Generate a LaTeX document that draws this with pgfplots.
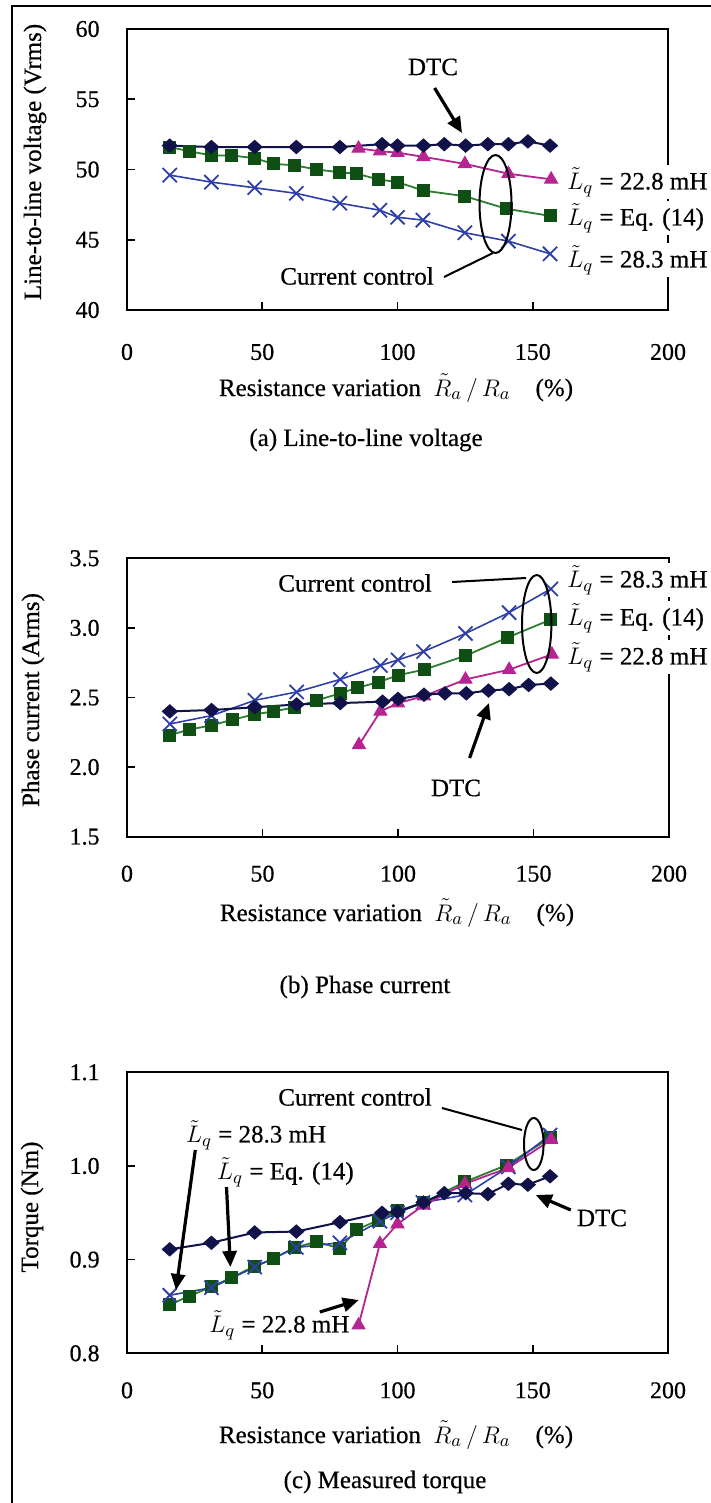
\documentclass[border=0pt]{standalone}
\usepackage{pgfplots}
\pgfplotsset{compat=1.18}
\usepackage{fontspec}
\setmainfont{Liberation Serif}[FakeBold=0.5]
\usetikzlibrary{arrows.meta}
\definecolor{dtc}{HTML}{12124A}
\definecolor{grn}{HTML}{0F4F14}
\definecolor{grnl}{HTML}{2E7D32}
\definecolor{blu}{HTML}{2F3FA8}
\definecolor{mag}{HTML}{B52490}

\tikzset{arr/.style={line width=1.6pt, -{Triangle[length=8pt, width=7pt]}}}
\pgfplotsset{
  myaxis/.style={
    scale only axis, width=270.5pt, height=140.5pt,
    xmin=0, xmax=200, xtick={0,50,100,150,200},
    tick align=inside, xtick pos=left, ytick pos=left,
    major tick length=4pt,
    axis line style={line width=1pt},
    tick style={line width=0.8pt, black},
    tick label style={font=\fontsize{12}{14}\selectfont},
    /pgf/number format/assume math mode=true,
    yticklabel style={anchor=east, inner sep=0pt, xshift=-13.5pt},
    clip=false,
    anchor=south west,
  },
  dtcp/.style={color=dtc, line width=1pt, mark=diamond*, mark size=3.3pt, mark options={fill=dtc, draw=dtc, xscale=1.5, line width=0.5pt}},
  grnp/.style={color=grnl, line width=0.9pt, mark=square*, mark size=3pt, mark options={fill=grn, draw=grn, line width=0.5pt}},
  blup/.style={color=blu, line width=0.8pt, mark=x, mark size=5pt, mark options={draw=blu, line width=0.9pt}},
  magp/.style={color=mag, line width=0.9pt, mark=triangle*, mark size=3.7pt, mark options={fill=mag, draw=mag, line width=0.5pt}},
}

\begin{document}
\begin{tikzpicture}[font=\fontsize{12.5}{15}\selectfont]
\useasboundingbox (0,0) rectangle (355.5pt,-751.5pt);

% ---------------- (a) ----------------
\begin{axis}[myaxis, at={(63.5pt,-155pt)},
  ymin=40, ymax=60, ytick={40,45,50,55,60},
  xticklabel style={anchor=center, yshift=-21pt}]
\addplot[blup] coordinates {(15.8,49.6)(31.2,49.1)(47.2,48.7)(62.6,48.3)(78.7,47.6)(93.5,47.1)(100,46.6)(109.4,46.4)(124.9,45.5)(141,44.9)(156.4,44.0)};
\addplot[grnp] coordinates {(15.8,51.6)(23.0,51.3)(31.2,51.0)(38.8,51.0)(47.2,50.8)(54.2,50.4)(61.9,50.3)(70.1,50.0)(78.7,49.8)(84.9,49.7)(92.8,49.3)(100,49.1)(109.6,48.5)(124.9,48.1)(140.3,47.2)(156.4,46.7)};
\addplot[magp] coordinates {(85.6,51.5)(93.5,51.3)(100,51.2)(109.6,50.9)(124.9,50.4)(141,49.7)(156.8,49.3)};
\addplot[dtcp] coordinates {(15.8,51.7)(31.2,51.6)(47.2,51.6)(62.6,51.6)(78.7,51.6)(94.3,51.8)(100,51.7)(109.6,51.7)(117.3,51.8)(125.2,51.7)(133.4,51.8)(141,51.8)(148.2,52.0)(156.4,51.7)};
\end{axis}

% ---------------- (b) ----------------
\begin{axis}[myaxis, at={(63.5pt,-418.35pt)}, height=139.2pt, width=271pt,
  ymin=1.5, ymax=3.5, ytick={1.5,2.0,2.5,3.0,3.5},
  yticklabel style={/pgf/number format/.cd, fixed, fixed zerofill, precision=1},
  xticklabel style={anchor=center, yshift=-18.5pt}]
\addplot[grnp] coordinates {(15.8,2.23)(23.0,2.27)(31.2,2.30)(38.8,2.34)(47.2,2.38)(54.2,2.40)(61.9,2.43)(70.1,2.48)(78.7,2.53)(84.9,2.57)(92.8,2.61)(100,2.66)(109.6,2.70)(124.9,2.80)(140.3,2.93)(156.4,3.06)};
\addplot[blup] coordinates {(15.8,2.31)(31.2,2.37)(47.2,2.48)(62.6,2.54)(78.7,2.63)(93.5,2.73)(100,2.77)(109.4,2.83)(124.9,2.96)(141,3.11)(156.4,3.28)};
\addplot[magp] coordinates {(85.6,2.16)(93.5,2.40)(100,2.46)(109.6,2.51)(124.9,2.63)(141,2.70)(156.8,2.81)};
\addplot[dtcp] coordinates {(15.8,2.40)(31.2,2.41)(47.2,2.43)(62.6,2.45)(78.7,2.46)(94.3,2.47)(100,2.49)(109.6,2.52)(117.3,2.53)(125.2,2.53)(133.4,2.55)(141,2.56)(148.2,2.59)(156.4,2.60)};
\end{axis}

% ---------------- (c) ----------------
\begin{axis}[myaxis, at={(63.5pt,-676.65pt)},
  ymin=0.8, ymax=1.1, ytick={0.8,0.9,1.0,1.1},
  yticklabel style={/pgf/number format/.cd, fixed, fixed zerofill, precision=1},
  xticklabel style={anchor=center, yshift=-18.5pt}]
\addplot[grnp] coordinates {(15.8,0.852)(23.0,0.861)(31.2,0.871)(38.8,0.881)(47.2,0.893)(54.2,0.901)(61.9,0.913)(70.1,0.919)(78.7,0.912)(84.9,0.932)(92.8,0.942)(100,0.952)(109.6,0.961)(124.9,0.983)(140.3,1.001)(156.4,1.030)};
\addplot[blup] coordinates {(15.8,0.862)(31.2,0.870)(47.2,0.892)(62.6,0.913)(78.7,0.918)(93.5,0.941)(100,0.950)(109.4,0.961)(124.9,0.969)(141,0.999)(156.4,1.033)};
\addplot[magp] coordinates {(85.6,0.830)(93.5,0.917)(100,0.938)(109.6,0.958)(124.9,0.981)(141,0.998)(156.8,1.028)};
\addplot[dtcp] coordinates {(15.8,0.911)(31.2,0.918)(47.2,0.929)(62.6,0.930)(78.7,0.940)(94.3,0.950)(100,0.951)(109.6,0.961)(117.3,0.971)(125.2,0.971)(133.4,0.970)(141,0.981)(148.2,0.980)(156.4,0.989)};
\end{axis}

% ---------------- text and annotations (pixel coordinates) ----------------
\begin{scope}[x=0.5pt, y=-0.5pt]
\draw[line width=1.1pt] (12,1503) -- (12,6) -- (711,6);

% (a)
\node[rotate=90] at (35,162) {Line-to-line voltage (Vrms)};
\node at (396,388) {Resistance variation\enspace $\tilde{R}_a\,/\,R_a$\quad(\%)};
\node at (366,440) {(a) Line-to-line voltage};
\node at (433,67) {DTC};
\draw[arr] (434.6,88) -- (462,133);
\node at (357,276) {Current control};
\draw[line width=1pt] (444,277) -- (493,253);
\draw[line width=1pt] (495.5,204) ellipse [x radius=16, y radius=49];
\node[fill=white, anchor=west, inner sep=1pt] at (565,182) {$\tilde{L}_q$ = 22.8 mH};
\node[fill=white, anchor=west, inner sep=1pt] at (565,218) {$\tilde{L}_q$ = Eq. (14)};
\node[fill=white, anchor=west, inner sep=1pt] at (565,260) {$\tilde{L}_q$ = 28.3 mH};

% (b)
\node[rotate=90] at (33,700) {Phase current (Arms)};
\node at (397,913) {Resistance variation\enspace $\tilde{R}_a\,/\,R_a$\quad(\%)};
\node at (365,987) {(b) Phase current};
\node at (355,583) {Current control};
\draw[line width=1pt] (452,582) -- (526,578);
\draw[line width=1pt] (536.7,624) ellipse [x radius=14.7, y radius=49];
\node[fill=white, anchor=west, inner sep=1pt] at (565,580) {$\tilde{L}_q$ = 28.3 mH};
\node[fill=white, anchor=west, inner sep=1pt] at (565,618) {$\tilde{L}_q$ = Eq. (14)};
\node[fill=white, anchor=west, inner sep=1pt] at (565,657) {$\tilde{L}_q$ = 22.8 mH};
\node at (456,788) {DTC};
\draw[arr] (469.6,758) -- (489,703);

% (c)
\node[rotate=90] at (32,1207) {Torque (Nm)};
\node at (396,1435) {Resistance variation\enspace $\tilde{R}_a\,/\,R_a$\quad(\%)};
\node at (385,1482) {(c) Measured torque};
\node at (355,1097) {Current control};
\draw[line width=1pt] (442,1108) -- (522,1130);
\draw[line width=1pt] (533.8,1144) ellipse [x radius=9.8, y radius=26];
\node[anchor=west, inner sep=1pt] at (183.7,1135) {$\tilde{L}_q$ = 28.3 mH};
\draw[arr] (195.3,1150) -- (176,1290);
\node[anchor=west, inner sep=1pt] at (214.8,1172) {$\tilde{L}_q$ = Eq. (14)};
\draw[arr] (226.5,1187) -- (230.4,1267);
\node[anchor=west, inner sep=1pt] at (207,1325) {$\tilde{L}_q$ = 22.8 mH};
\draw[arr] (319.8,1312) -- (358.8,1300);
\node at (602,1218) {DTC};
\draw[arr] (570.8,1210) -- (535.8,1195);
\end{scope}
\end{tikzpicture}
\end{document}
